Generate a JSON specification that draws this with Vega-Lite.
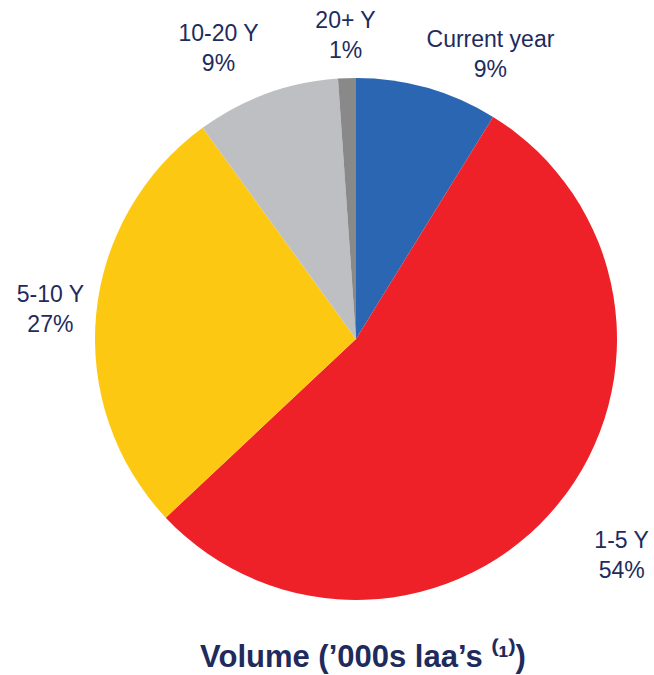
{
  "$schema": "https://vega.github.io/schema/vega-lite/v6.json",
  "width": 522,
  "height": 522,
  "autosize": {"type": "none"},
  "padding": {"left": 95, "top": 78, "right": 37, "bottom": 75},
  "background": "white",
  "title": {
    "text": "Volume (’000s laa’s ⁽¹⁾)",
    "orient": "bottom",
    "anchor": "middle",
    "font": "Liberation Sans",
    "fontSize": 31,
    "fontWeight": "bold",
    "color": "#1e2b5c",
    "baseline": "alphabetic",
    "offset": 67,
    "dx": 7
  },
  "data": {
    "values": [
      {"cat": "Current year", "label": "Current year\n9%", "v": 8.8, "o": 1},
      {"cat": "1-5 Y", "label": "1-5 Y\n54%", "v": 54.2, "o": 2},
      {"cat": "5-10 Y", "label": "5-10 Y\n27%", "v": 27.0, "o": 3},
      {"cat": "10-20 Y", "label": "10-20 Y\n9%", "v": 8.9, "o": 4},
      {"cat": "20+ Y", "label": "20+ Y\n1%", "v": 1.1, "o": 5}
    ]
  },
  "encoding": {
    "theta": {"field": "v", "type": "quantitative", "stack": true},
    "order": {"field": "o", "type": "quantitative"}
  },
  "layer": [
    {
      "mark": {"type": "arc", "outerRadius": 261},
      "encoding": {
        "color": {
          "field": "cat",
          "type": "nominal",
          "scale": {
            "domain": ["Current year", "1-5 Y", "5-10 Y", "10-20 Y", "20+ Y"],
            "range": ["#2a66b1", "#ee2028", "#fdc812", "#bebfc2", "#898989"]
          },
          "legend": null
        }
      }
    },
    {
      "mark": {"type": "text", "radius": 314, "thetaOffset": 0.166, "dy": -15, "lineBreak": "\n", "font": "Liberation Sans", "fontSize": 23, "lineHeight": 30, "color": "#1e2b5c", "align": "center", "baseline": "middle"},
      "encoding": {"text": {"condition": {"test": "datum.cat === 'Current year'", "field": "label"}, "value": ""}}
    },
    {
      "mark": {"type": "text", "radius": 343, "dy": -15, "lineBreak": "\n", "font": "Liberation Sans", "fontSize": 23, "lineHeight": 30, "color": "#1e2b5c", "align": "center", "baseline": "middle"},
      "encoding": {"text": {"condition": {"test": "datum.cat === '1-5 Y'", "field": "label"}, "value": ""}}
    },
    {
      "mark": {"type": "text", "radius": 307, "dy": -15, "lineBreak": "\n", "font": "Liberation Sans", "fontSize": 23, "lineHeight": 30, "color": "#1e2b5c", "align": "center", "baseline": "middle"},
      "encoding": {"text": {"condition": {"test": "datum.cat === '5-10 Y'", "field": "label"}, "value": ""}}
    },
    {
      "mark": {"type": "text", "radius": 321, "thetaOffset": -0.094, "dy": -15, "lineBreak": "\n", "font": "Liberation Sans", "fontSize": 23, "lineHeight": 30, "color": "#1e2b5c", "align": "center", "baseline": "middle"},
      "encoding": {"text": {"condition": {"test": "datum.cat === '10-20 Y'", "field": "label"}, "value": ""}}
    },
    {
      "mark": {"type": "text", "radius": 303, "dy": -15, "lineBreak": "\n", "font": "Liberation Sans", "fontSize": 23, "lineHeight": 30, "color": "#1e2b5c", "align": "center", "baseline": "middle"},
      "encoding": {"text": {"condition": {"test": "datum.cat === '20+ Y'", "field": "label"}, "value": ""}}
    }
  ],
  "config": {"view": {"stroke": null}}
}
